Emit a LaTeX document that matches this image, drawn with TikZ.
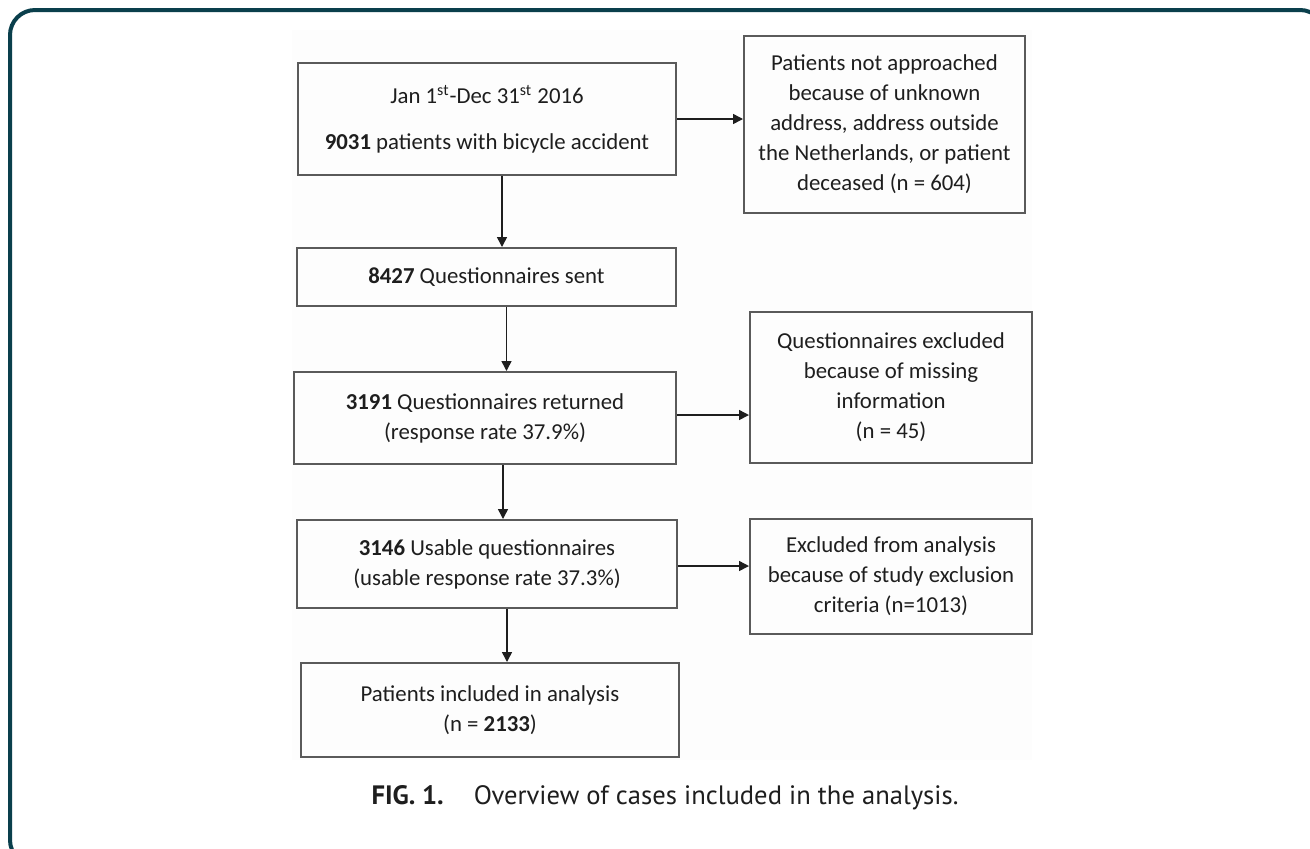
\documentclass[tikz,border=0pt]{standalone}
\usepackage{fontspec}
\setmainfont{Carlito}
\newfontfamily\capfont{PT Sans}
\usetikzlibrary{arrows.meta}
\definecolor{framecol}{HTML}{0A3F4C}
\definecolor{boxline}{HTML}{5A5A5A}
\definecolor{bgfaint}{HTML}{FDFDFD}
\definecolor{txt}{HTML}{1E1E1E}
\begin{document}
\begin{tikzpicture}[x=0.5pt,y=-0.5pt,
  box/.style={draw=boxline, line width=1pt, rectangle, inner sep=0pt, align=center,
    font=\fontsize{11.4}{15}\selectfont, text=txt},
  arr/.style={draw=txt, line width=0.75pt, -{Triangle[length=5pt,width=5pt]}}]
\useasboundingbox (0,0) rectangle (1310,848);
\begin{scope}
\clip (0,0) rectangle (1310,848);
\fill[white] (0,0) rectangle (1310,848);
\draw[framecol, line width=2pt, rounded corners=12.5pt] (10,10) rectangle (1325,865);
\end{scope}
\fill[bgfaint] (292,30) rectangle (1032,760);

\node[box, minimum width=189pt, minimum height=56pt] (b1) at (487,119)
  {Jan 1\textsuperscript{st}-Dec 31\textsuperscript{st} 2016\\[8pt]\textbf{9031} patients with bicycle accident};
\node[box, minimum width=140.5pt, minimum height=88.5pt] (r1) at (884.5,124.5)
  {Patients not approached\\because of unknown\\address, address outside\\the Netherlands, or patient\\deceased (n = 604)};
\node[box, minimum width=189.5pt, minimum height=29pt] (b2) at (486.5,277)
  {\textbf{8427} Questionnaires sent};
\node[box, minimum width=191pt, minimum height=46pt] (b3) at (485,418)
  {\textbf{3191} Questionnaires returned\\(response rate 37.9\%)};
\node[box, minimum width=141pt, minimum height=75.5pt] (r2) at (891,387.5)
  {Questionnaires excluded\\because of missing\\information\\(n = 45)};
\node[box, minimum width=190pt, minimum height=44pt] (b4) at (487,564)
  {\textbf{3146} Usable questionnaires\\(usable response rate 37.3\%)};
\node[box, minimum width=141pt, minimum height=57.5pt] (r3) at (891,576.5)
  {Excluded from analysis\\because of study exclusion\\criteria (n=1013)};
\node[box, minimum width=189pt, minimum height=47pt] (b5) at (490,710)
  {Patients included in analysis\\(n = \textbf{2133})};

\draw[arr] ([xshift=7.5pt]b1.south) -- ([xshift=7.5pt]b1.south |- b2.north);
\draw[arr] ([xshift=10pt]b2.south) -- ([xshift=10pt]b2.south |- b3.north);
\draw[arr] ([xshift=9pt]b3.south) -- ([xshift=9pt]b3.south |- b4.north);
\draw[arr] ([xshift=10pt]b4.south) -- ([xshift=10pt]b4.south |- b5.north);
\draw[arr] (b1.east) -- (b1.east -| r1.west);
\draw[arr] ([yshift=1.5pt]b3.east) -- ([yshift=1.5pt]b3.east -| r2.west);
\draw[arr] ([yshift=-1pt]b4.east) -- ([yshift=-1pt]b4.east -| r3.west);

\node[font=\capfont\fontsize{13.3}{16}\selectfont, text=txt, inner sep=0pt] (cap) at (665,798)
  {\textbf{FIG. 1.}\hspace{15pt}Overview of cases included in the analysis.};
\end{tikzpicture}
\end{document}
